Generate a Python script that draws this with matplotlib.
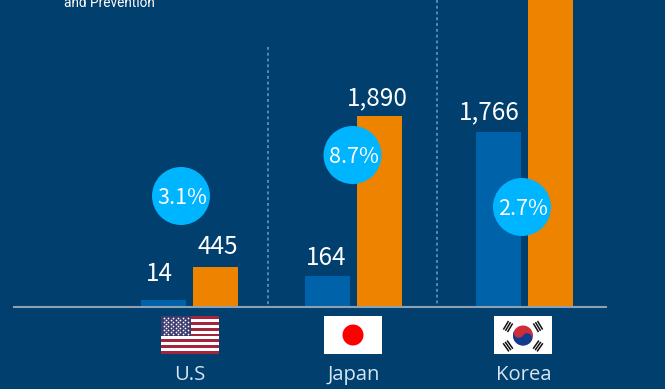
import numpy as np
import matplotlib
matplotlib.use("Agg")
import matplotlib.pyplot as plt
from matplotlib.patches import Circle, Rectangle, Polygon

# ---- data ----
countries = ["U.S", "Japan", "Korea"]
blue_labels = ["14", "164", "1,766"]
orange_labels = ["445", "1,890"]
blue_heights = [60, 300, 1736]        # drawn heights (the source bars are not to scale)
orange_heights = [392, 1890, 3300]
shares = ["3.1%", "8.7%", "2.7%"]

BG = "#003F6E"
BLUE = "#0063AA"
ORANGE = "#EE8300"
CYAN = "#00B5FF"
W, H = 665, 389
NUM = ["Noto Sans CJK KR", "DejaVu Sans"]

fig = plt.figure(figsize=(W / 100, H / 100), dpi=100, facecolor=BG)

# bar axes: x in pixels, y in value units; baseline at pixel 306.5
px_per_unit = 190.5 / 1890
ax = fig.add_axes([0, 0, 1, 1], facecolor=BG)
ax.set_xlim(0, W)
ax.set_ylim(-(H - 306.5) / px_per_unit, 306.5 / px_per_unit)
ax.axis("off")
centers = np.array([189.5, 353.5, 524.5])
bw = 45.5
ax.bar(centers - 26, blue_heights, bw, color=BLUE, linewidth=0)
ax.bar(centers + 26, orange_heights, bw, color=ORANGE, linewidth=0)

# overlay in pixel coordinates
d = fig.add_axes([0, 0, 1, 1], facecolor="none")
d.set_xlim(0, W)
d.set_ylim(H, 0)
d.axis("off")

d.plot([13, 607], [306.5, 306.5], color="#8CA2B4", lw=1.5, zorder=3, solid_capstyle="butt")
for x, y0 in [(268, 47), (437, 0)]:
    d.plot([x, x], [y0, 306], color="#5F90B8", lw=1.3, ls=(0, (1.6, 1.6)), zorder=2)

d.text(64, 3, "and Prevention", color="white", fontsize=9.8, family="Roboto",
       ha="left", va="center")

# value labels
for txt, x, y in zip(blue_labels + orange_labels,
                     [159, 326, 489, 218, 377], [274, 258, 112, 246.5, 98]):
    d.text(x, y, txt, color="white", fontsize=17.5, family=NUM, ha="center", va="center")

# share circles
for txt, (x, y) in zip(shares, [(181, 196), (352.5, 155), (522, 207)]):
    d.add_patch(Circle((x, y), 29, fc=CYAN, ec="none", zorder=5))
    d.text(x + 1.5, y + 1.5, txt, color="white", fontsize=15.5, family=NUM, ha="center",
           va="center", zorder=6)

# country names
for txt, x in zip(countries, [190, 354, 524]):
    d.text(x, 375, txt, color="#D5E5F1", fontsize=14.6, family="Open Sans",
           ha="center", va="center")

# US flag
fx, fy, fw, fh = 161, 316, 58, 38
for i in range(13):
    c = "#A3243B" if i % 2 == 0 else "white"
    d.add_patch(Rectangle((fx, fy + i * fh / 13), fw, fh / 13 + 0.1, fc=c, ec="none", zorder=3))
d.add_patch(Rectangle((fx, fy), fw * 0.51, fh * 7 / 13, fc="#3C3B6E", ec="none", zorder=4))
for r in range(9):
    n = 6 if r % 2 == 0 else 5
    off = 2.5 if r % 2 == 0 else 5
    xs = fx + off + np.arange(n) * 4.8
    d.scatter(xs, np.full(n, fy + 1.6 + r * 2.05), s=1.6, c="white", linewidths=0, zorder=5)

# Japan flag
d.add_patch(Rectangle((324, 316), 58, 38, fc="white", ec="none", zorder=3))
d.add_patch(Circle((353, 335), 10.5, fc="#FF0000", ec="none", zorder=4))

# Korea flag
kx, ky = 523, 335.5
d.add_patch(Rectangle((494, 316), 58, 38, fc="white", ec="none", zorder=3))
r = 10
tilt = 33.7
d.add_patch(Circle((kx, ky), r, fc="#CD2E3A", ec="none", zorder=4))


def arc(cx, cy, rad, a0, a1):
    th = np.radians(np.linspace(a0, a1, 40))
    return list(zip(cx + rad * np.cos(th), cy + rad * np.sin(th)))


ux, uy = np.cos(np.radians(tilt)), np.sin(np.radians(tilt))
outer = arc(kx, ky, r, tilt, tilt + 180)
small_left = arc(kx - ux * r / 2, ky - uy * r / 2, r / 2, tilt + 180, tilt)
small_right = arc(kx + ux * r / 2, ky + uy * r / 2, r / 2, tilt + 180, tilt + 360)
d.add_patch(Polygon(outer + small_left + small_right, closed=True, fc="#0F3D8F", ec="none", zorder=5))

for cx, cy in [(508, 326.5), (538, 326.5), (508, 346), (538, 346)]:
    dirx, diry = kx - cx, ky - cy
    nrm = np.hypot(dirx, diry)
    dirx, diry = dirx / nrm, diry / nrm
    nx, ny = -diry, dirx
    for k in (-2.4, 0, 2.4):
        mx, my = cx + dirx * k, cy + diry * k
        d.plot([mx - nx * 5, mx + nx * 5], [my - ny * 5, my + ny * 5],
               color="#111111", lw=1.1, zorder=4, solid_capstyle="butt")

fig.savefig("out.png", dpi=100, facecolor=BG)
